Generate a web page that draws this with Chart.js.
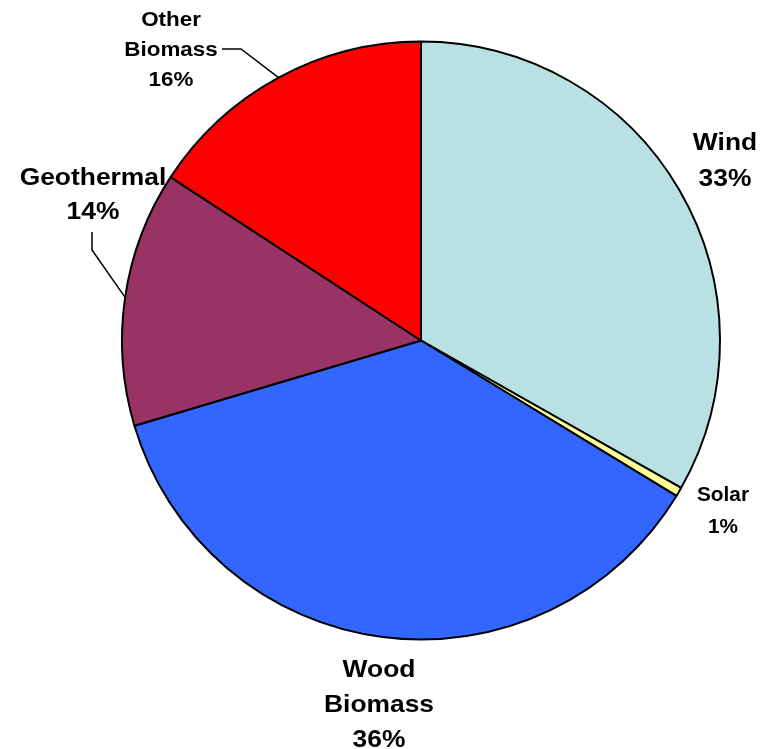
<!DOCTYPE html>
<html>
<head>
<meta charset="utf-8">
<script src="https://cdn.jsdelivr.net/npm/chart.js@4"></script>
<style>
  html, body { margin: 0; padding: 0; background: #fff; }
  #pie { display: block; }
</style>
</head>
<body>
<canvas id="pie" width="769" height="749"></canvas>
<script>
// data (share of the total, %)
const categories = ["Wind", "Solar", "Wood Biomass", "Geothermal", "Other Biomass"];
const shares = [33.2, 0.5, 36.7, 13.8, 15.8];
const pctLabels = ["33%", "1%", "36%", "14%", "16%"];
const sliceColors = ["#B9E0E3", "#FFFF99", "#3366FF", "#993366", "#FF0000"];

// where each label sits (Excel put them by hand)
const labelLayout = [
  { lines: ["Wind"], x: 725, y: [141, 177], size: 24, sx: 1.1 },
  { lines: ["Solar"], x: 723, y: [494, 526], size: 20, sx: 1.04 },
  { lines: ["Wood", "Biomass"], x: 379, y: [668, 703, 738], size: 24, sx: 1.1 },
  { lines: ["Geothermal"], x: 93, y: [176, 210], size: 24, sx: 1.1, leader: [[92, 232], [92, 250]] },
  { lines: ["Other", "Biomass"], x: 171, y: [19, 49, 79], size: 20, sx: 1.12, leader: [[222, 49], [241, 49]] },
];

const drawText = (ctx, txt, x, y, size, sx) => {
  ctx.save();
  ctx.font = `bold ${size}px "Liberation Sans", Arial, sans-serif`;
  ctx.textAlign = "center";
  ctx.textBaseline = "alphabetic";
  ctx.translate(x, y + size * 0.358);
  ctx.scale(sx, 1);
  ctx.fillStyle = "#000";
  ctx.fillText(txt, 0, 0);
  ctx.restore();
};

const labelPlugin = {
  id: "pieLabels",
  afterDatasetsDraw(chart) {
    const ctx = chart.ctx;
    const arcs = chart.getDatasetMeta(0).data;
    labelLayout.forEach((lab, i) => {
      const texts = lab.lines.concat([pctLabels[i]]);
      texts.forEach((t, j) => drawText(ctx, t, lab.x, lab.y[j], lab.size, lab.sx));
      if (lab.leader) {
        // line ends on the rim, in the middle of the slice
        const arc = arcs[i];
        const mid = (arc.startAngle + arc.endAngle) / 2;
        const ex = arc.x + Math.cos(mid) * arc.outerRadius;
        const ey = arc.y + Math.sin(mid) * arc.outerRadius;
        ctx.save();
        ctx.strokeStyle = "#000";
        ctx.lineWidth = 1.5;
        ctx.beginPath();
        ctx.moveTo(lab.leader[0][0], lab.leader[0][1]);
        ctx.lineTo(lab.leader[1][0], lab.leader[1][1]);
        ctx.lineTo(ex, ey);
        ctx.stroke();
        ctx.restore();
      }
    });
  },
};

new Chart(document.getElementById("pie"), {
  type: "pie",
  plugins: [labelPlugin],
  data: {
    labels: categories,
    datasets: [{
      data: shares,
      backgroundColor: sliceColors,
      borderColor: "#000",
      borderWidth: 2,
      hoverOffset: 0,
    }],
  },
  options: {
    responsive: false,
    devicePixelRatio: 1,
    animation: false,
    events: [],
    layout: { padding: { top: 40, left: 121, right: 48, bottom: 108 } },
    plugins: {
      legend: { display: false },
      tooltip: { enabled: false },
    },
  },
});
</script>
</body>
</html>
